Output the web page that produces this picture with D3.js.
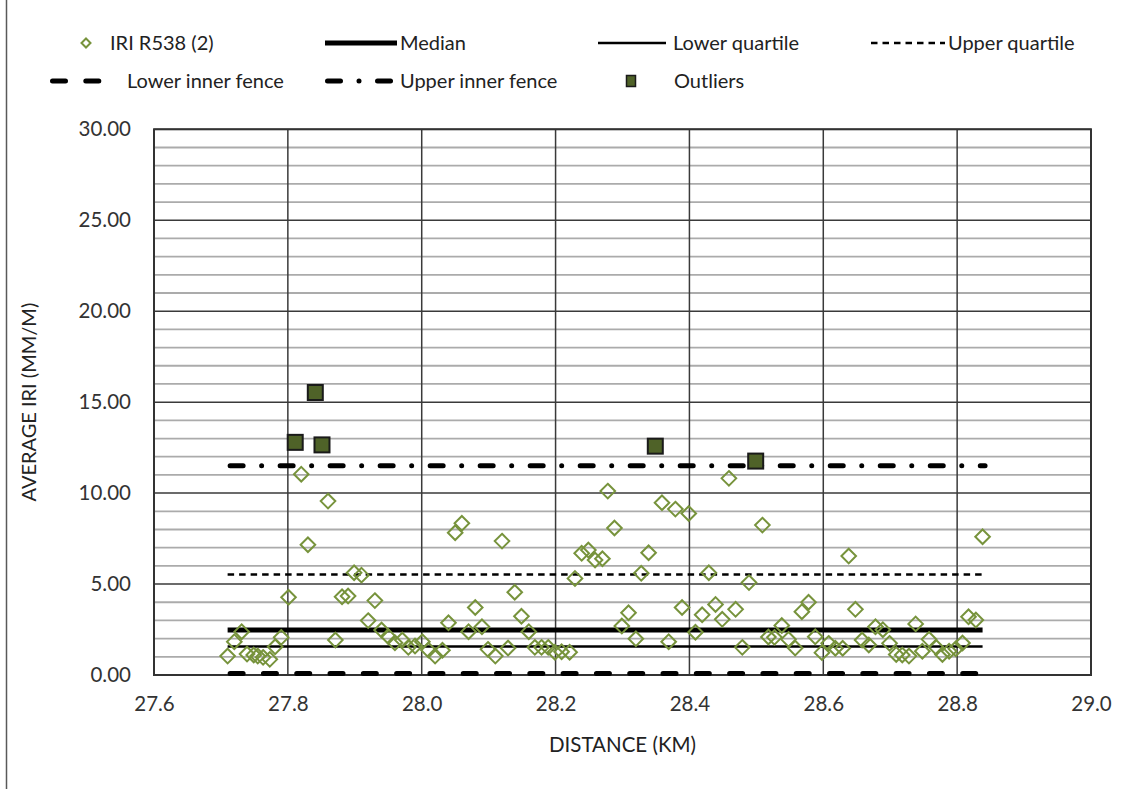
<!DOCTYPE html>
<html>
<head>
<meta charset="utf-8">
<script src="https://cdn.jsdelivr.net/npm/d3@7"></script>
<style>
  html, body { margin: 0; padding: 0; background: #fff; }
  svg { display: block; font-family: Lato, "Open Sans", sans-serif; }
</style>
</head>
<body>
<svg id="chart" width="1139" height="789"></svg>
<script>
// ---- DATA ----
const distanceKm = [
  27.710, 27.720, 27.731, 27.739, 27.749, 27.755, 27.763, 27.773, 27.781, 27.790,
  27.801, 27.820, 27.830, 27.860, 27.871, 27.881, 27.890, 27.899, 27.910, 27.920,
  27.930, 27.940, 27.950, 27.960, 27.971, 27.980, 27.990, 28.001, 28.010, 28.020,
  28.031, 28.040, 28.050, 28.060, 28.070, 28.080, 28.090, 28.099, 28.110, 28.120,
  28.129, 28.139, 28.149, 28.160, 28.169, 28.179, 28.189, 28.199, 28.209, 28.221,
  28.229, 28.239, 28.249, 28.259, 28.270, 28.278, 28.288, 28.299, 28.309, 28.320,
  28.328, 28.339, 28.359, 28.369, 28.379, 28.389, 28.399, 28.409, 28.419, 28.429,
  28.439, 28.449, 28.459, 28.469, 28.479, 28.489, 28.509, 28.518, 28.527, 28.538,
  28.548, 28.558, 28.568, 28.578, 28.588, 28.598, 28.608, 28.618, 28.629, 28.638,
  28.648, 28.658, 28.668, 28.678, 28.689, 28.699, 28.709, 28.718, 28.728, 28.738,
  28.748, 28.758, 28.769, 28.778, 28.788, 28.798, 28.808, 28.817, 28.828, 28.838
];
const iriValues = [
  1.04, 1.83, 2.38, 1.15, 1.10, 1.04, 0.97, 0.86, 1.55, 2.07,
  4.27, 11.04, 7.16, 9.56, 1.92, 4.30, 4.34, 5.62, 5.49, 2.99,
  4.09, 2.47, 2.12, 1.77, 1.92, 1.52, 1.59, 1.83, 1.37, 1.04,
  1.36, 2.87, 7.82, 8.34, 2.38, 3.71, 2.65, 1.41, 1.04, 7.36,
  1.48, 4.55, 3.23, 2.38, 1.52, 1.52, 1.52, 1.25, 1.28, 1.25,
  5.31, 6.69, 6.87, 6.32, 6.39, 10.11, 8.08, 2.69, 3.42, 1.99,
  5.59, 6.72, 9.47, 1.83, 9.12, 3.71, 8.88, 2.35, 3.31, 5.62,
  3.88, 3.06, 10.81, 3.61, 1.52, 5.08, 8.24, 2.09, 2.07, 2.72,
  1.96, 1.48, 3.48, 4.00, 2.10, 1.23, 1.74, 1.47, 1.47, 6.54,
  3.61, 1.92, 1.65, 2.65, 2.49, 1.74, 1.13, 1.10, 1.04, 2.81,
  1.31, 1.96, 1.51, 1.13, 1.31, 1.44, 1.76, 3.20, 3.02, 7.60
];
const outlierKm = [27.811, 27.841, 27.851, 28.349, 28.499];
const outlierValues = [12.79, 15.53, 12.65, 12.58, 11.76];

const medianValue = 2.47;
const lowerQuartile = 1.56;
const upperQuartile = 5.53;
const lowerInnerFence = 0.08;
const upperInnerFence = 11.5;

const xTicks = [27.6, 27.8, 28.0, 28.2, 28.4, 28.6, 28.8, 29.0];
const yTicks = [0, 5, 10, 15, 20, 25, 30];
const yMinorTicks = d3.range(0, 31, 1);

const legendLabels = ["IRI R538 (2)", "Median", "Lower quartile", "Upper quartile",
                      "Lower inner fence", "Upper inner fence", "Outliers"];
const xTitle = "DISTANCE (KM)";
const yTitle = "AVERAGE IRI (MM/M)";

// ---- LAYOUT ----
const svg = d3.select("#chart");
const plot = { left: 154, right: 1091, top: 129.3, bottom: 675 };
const x = d3.scaleLinear().domain([27.6, 29.0]).range([plot.left, plot.right]);
const y = d3.scaleLinear().domain([0, 30]).range([plot.bottom, plot.top]);

const GREEN = "#77933C";
const OUT_FILL = "#4F6228";
const TEXT = "#333333";

// outer chart border (left edge visible)
svg.append("line").attr("x1", 6.5).attr("x2", 6.5).attr("y1", 0).attr("y2", 789)
  .attr("stroke", "#595959").attr("stroke-width", 1.5);

// minor horizontal gridlines
svg.append("g").selectAll("line").data(yMinorTicks.filter(v => v % 5 !== 0)).join("line")
  .attr("x1", plot.left).attr("x2", plot.right)
  .attr("y1", d => y(d)).attr("y2", d => y(d))
  .attr("stroke", "#ABABAB").attr("stroke-width", 1.8);

// major horizontal gridlines
svg.append("g").selectAll("line").data(yTicks).join("line")
  .attr("x1", plot.left).attr("x2", plot.right)
  .attr("y1", d => y(d)).attr("y2", d => y(d))
  .attr("stroke", "#3a3a3a").attr("stroke-width", 1.5);

// vertical gridlines
svg.append("g").selectAll("line").data(xTicks).join("line")
  .attr("x1", d => x(d)).attr("x2", d => x(d))
  .attr("y1", plot.top).attr("y2", plot.bottom)
  .attr("stroke", "#3a3a3a").attr("stroke-width", 1.5);

// plot border
svg.append("rect").attr("x", plot.left).attr("y", plot.top)
  .attr("width", plot.right - plot.left).attr("height", plot.bottom - plot.top)
  .attr("fill", "none").attr("stroke", "#333").attr("stroke-width", 2);

// axes labels via d3 axes
const xAxis = svg.append("g").attr("transform", `translate(0,${plot.bottom})`)
  .call(d3.axisBottom(x).tickValues(xTicks).tickFormat(d3.format(".1f")).tickSize(0).tickPadding(21));
const yAxis = svg.append("g").attr("transform", `translate(${plot.left},0)`)
  .call(d3.axisLeft(y).tickValues(yTicks).tickFormat(d3.format(".2f")).tickSize(0).tickPadding(23));
[xAxis, yAxis].forEach(a => {
  a.select(".domain").remove();
  a.selectAll("text").attr("font-size", 20.5).attr("fill", TEXT)
    .attr("font-family", "Lato, sans-serif");
});

// axis titles
svg.append("text").attr("x", (plot.left + plot.right) / 2).attr("y", 752)
  .attr("text-anchor", "middle").attr("font-size", 20.5).attr("fill", "#222").text(xTitle);
svg.append("text").attr("transform", `translate(36,${(plot.top + plot.bottom) / 2}) rotate(-90)`)
  .attr("text-anchor", "middle").attr("font-size", 20).attr("fill", "#222").text(yTitle);

// stat lines
const [xs, xe] = d3.extent(distanceKm);
const statLines = [
  { v: lowerInnerFence, w: 5, dash: "13,20.3", cap: "round" },
  { v: lowerQuartile, w: 2.5, dash: null, cap: "butt" },
  { v: medianValue, w: 5, dash: null, cap: "butt" },
  { v: upperQuartile, w: 2.5, dash: "6.5,5", cap: "butt" },
  { v: upperInnerFence, w: 5, dash: "13,18.5,0.01,18.5", cap: "round" }
];
const lineGen = d3.line().x(d => x(d[0])).y(d => y(d[1]));
svg.append("g").selectAll("path").data(statLines).join("path")
  .attr("d", d => lineGen([[xs, d.v], [xe, d.v]]))
  .attr("fill", "none").attr("stroke", "#000").attr("stroke-width", d => d.w)
  .attr("stroke-dasharray", d => d.dash).attr("stroke-linecap", d => d.cap)
  .attr("transform", d => d.cap === "round" ? "translate(2.5,0)" : null);

// diamonds
const diamond = r => `M0,${-r}L${r},0L0,${r}L${-r},0Z`;
svg.append("g").selectAll("path").data(distanceKm.map((d, i) => [d, iriValues[i]])).join("path")
  .attr("d", diamond(7.3))
  .attr("transform", d => `translate(${x(d[0])},${y(d[1])})`)
  .attr("fill", "none").attr("stroke", GREEN).attr("stroke-width", 2);

// outliers
svg.append("g").selectAll("rect").data(outlierKm.map((d, i) => [d, outlierValues[i]])).join("rect")
  .attr("x", d => x(d[0]) - 7.5).attr("y", d => y(d[1]) - 7.5)
  .attr("width", 15).attr("height", 15)
  .attr("fill", OUT_FILL).attr("stroke", "#1a1a1a").attr("stroke-width", 2);

// legend
const lg = svg.append("g").attr("font-size", 20).attr("fill", "#222");
const row1 = 43, row2 = 81;
// 1: diamond
lg.append("path").attr("d", diamond(4.5)).attr("transform", `translate(86,${row1})`)
  .attr("fill", "none").attr("stroke", GREEN).attr("stroke-width", 2);
// 2: median
lg.append("line").attr("x1", 325).attr("x2", 397).attr("y1", row1).attr("y2", row1)
  .attr("stroke", "#000").attr("stroke-width", 5);
// 3: lower quartile
lg.append("line").attr("x1", 598).attr("x2", 666).attr("y1", row1).attr("y2", row1)
  .attr("stroke", "#000").attr("stroke-width", 2.5);
// 4: upper quartile
lg.append("line").attr("x1", 871).attr("x2", 945).attr("y1", row1).attr("y2", row1)
  .attr("stroke", "#000").attr("stroke-width", 2.5).attr("stroke-dasharray", "6.5,5");
// 5: lower inner fence
lg.append("line").attr("x1", 52.5).attr("x2", 100).attr("y1", row2).attr("y2", row2)
  .attr("stroke", "#000").attr("stroke-width", 5).attr("stroke-linecap", "round")
  .attr("stroke-dasharray", "13,20.3");
// 6: upper inner fence
lg.append("line").attr("x1", 327.5).attr("x2", 397).attr("y1", row2).attr("y2", row2)
  .attr("stroke", "#000").attr("stroke-width", 5).attr("stroke-linecap", "round")
  .attr("stroke-dasharray", "13,18.5,0.01,18.5");
// 7: outliers
lg.append("rect").attr("x", 626.5).attr("y", row2 - 5.5).attr("width", 9).attr("height", 11)
  .attr("fill", OUT_FILL).attr("stroke", "#1a1a1a").attr("stroke-width", 1.5);

const legendTextPos = [[110, row1], [400, row1], [673, row1], [948, row1],
                       [127, row2], [400, row2], [674, row2]];
lg.selectAll("text").data(legendLabels).join("text")
  .attr("x", (d, i) => legendTextPos[i][0]).attr("y", (d, i) => legendTextPos[i][1])
  .attr("dy", "0.35em").text(d => d);
</script>
</body>
</html>
